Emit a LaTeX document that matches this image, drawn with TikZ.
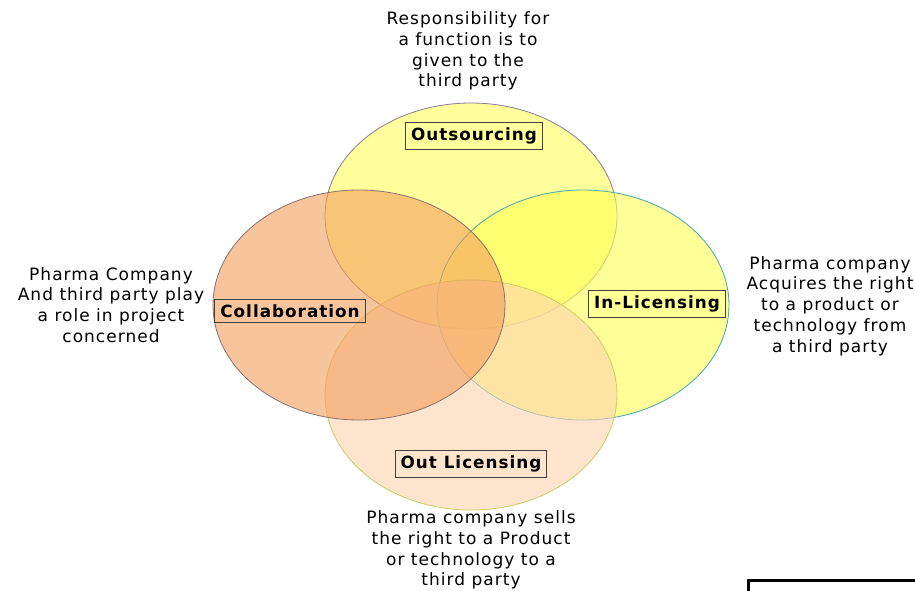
\documentclass[tikz,border=0pt]{standalone}
\usepackage{fontspec}
\setmainfont{DejaVu Sans}
\newfontfamily\vfont[LetterSpace=6]{DejaVu Sans}
\begin{document}
\begin{tikzpicture}[x=1pt,y=-1pt,
  venn/.style={line width=0.8pt, fill opacity=0.62},
  lbl/.style={draw=black!75, line width=0.9pt, font=\vfont\bfseries\fontsize{16.8}{19}\selectfont, inner xsep=5.5pt, inner ysep=5pt, text=black},
  desc/.style={align=center, font=\vfont\fontsize{17}{20.7}\selectfont}]
\definecolor{cTop}{HTML}{FFFF60}
\definecolor{cLeft}{HTML}{F5A060}
\definecolor{cRight}{HTML}{FFFF58}
\definecolor{cBot}{HTML}{FCD4AE}
\definecolor{eTop}{HTML}{8A7A9A}
\definecolor{eLeft}{HTML}{8A7070}
\definecolor{eRight}{HTML}{40A8B0}
\definecolor{eBot}{HTML}{C8D060}
\useasboundingbox (0,0) rectangle (915,590);
\fill[white] (0,0) rectangle (915,590);
\path[venn, fill=cTop, draw=eTop] (471,216) ellipse [x radius=146, y radius=113];
\path[venn, fill=cRight, draw=eRight] (583,305) ellipse [x radius=146, y radius=115];
\path[venn, fill=cBot, draw=eBot] (471,395) ellipse [x radius=146, y radius=115];
\path[venn, fill=cLeft, draw=eLeft] (359,305) ellipse [x radius=146, y radius=115];
\node[lbl] (out) at (474,136) {Outsourcing};
\node[lbl] (col) at (290,311) {Collaboration};
\node[lbl] (inl) at (657,304) {In-Licensing};
\node[lbl] (outl) at (471,464) {Out Licensing};
\node[desc] (tTop) at (468,51) {Responsibility for\\a function is to\\given to the\\third party};
\node[desc] (tLeft) at (111,305) {Pharma Company\\And third party play\\a role in project\\concerned};
\node[desc] (tRight) at (830,306) {Pharma company\\Acquires the right\\to a product or\\technology from\\a third party};
\node[desc] (tBot) at (471,550) {Pharma company sells\\the right to a Product\\or technology to a\\third party};
\draw[line width=3pt] (748,592) -- (748,580) -- (917,580);
\end{tikzpicture}
\end{document}
